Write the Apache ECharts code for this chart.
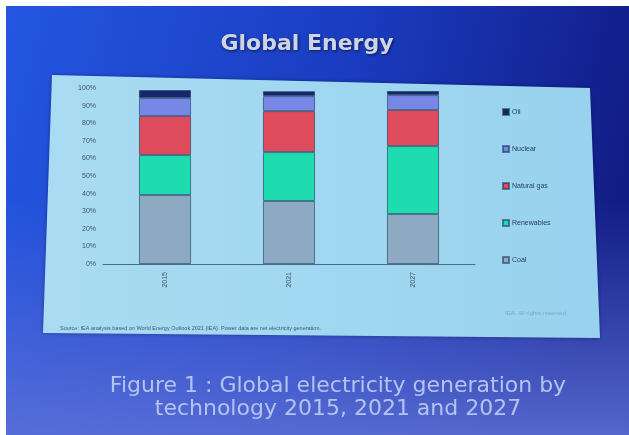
<!DOCTYPE html>
<html>
<head>
<meta charset="utf-8">
<script src="https://cdn.jsdelivr.net/npm/echarts@6/dist/echarts.min.js"></script>
<style>
html,body{margin:0;padding:0;background:#fff;}
#chart{width:629px;height:435px;}
</style>
</head>
<body>
<div id="chart"></div>
<script>
// Data (share of global electricity generation, %)
var categories = ['2015', '2021', '2027'];
var coal       = [39.2, 35.8, 28.4];
var renewables = [22.7, 27.8, 38.6];
var naturalGas = [22.2, 23.3, 20.5];
var nuclear    = [10.2, 8.5, 8.5];
var oil        = [4.5, 2.8, 2.3];
var legendOrder = ['Oil', 'Nuclear', 'Natural gas', 'Renewables', 'Coal'];

var chart = echarts.init(document.getElementById('chart'), null, {renderer: 'canvas'});

function seg(name, data, color) {
  return {
    name: name, type: 'bar', stack: 'total', data: data, barWidth: '42%',
    itemStyle: {color: color, borderColor: 'rgba(20,45,80,0.55)', borderWidth: 1},
    emphasis: {disabled: true}
  };
}

var option = {
  animation: false,
  backgroundColor: {
    type: 'linear', x: 0, y: 0, x2: 1, y2: 0.35,
    colorStops: [
      {offset: 0, color: '#2457e2'},
      {offset: 0.55, color: '#1a3cc0'},
      {offset: 1, color: '#121c86'}
    ]
  },
  title: [
    {
      text: 'Global Energy', left: 302, top: 28, textAlign: 'center',
      textStyle: {color: '#cfd4e2', fontFamily: 'DejaVu Sans', fontWeight: 'bold', fontSize: 22,
        textShadowColor: 'rgba(0,0,20,0.6)', textShadowBlur: 3, textShadowOffsetX: 1, textShadowOffsetY: 1}
    },
    {
      text: 'Figure 1 : Global electricity generation by\ntechnology 2015, 2021 and 2027',
      left: 333, top: 370, textAlign: 'center',
      textStyle: {color: '#b4c3ef', fontFamily: 'DejaVu Sans', fontWeight: 'normal', fontSize: 22, lineHeight: 23,
        align: 'center'}
    }
  ],
  graphic: [
    {
      type: 'rect', z: -20, silent: true,
      shape: {x: 0, y: 200, width: 629, height: 235},
      style: {fill: {type: 'linear', x: 0, y: 0, x2: 0, y2: 1,
        colorStops: [{offset: 0, color: 'rgba(90,110,220,0)'}, {offset: 1, color: 'rgba(95,115,215,0.85)'}]}}
    },
    {
      type: 'polygon', z: -10, silent: true,
      shape: {points: [[52, 75], [590, 88], [600, 338], [43, 333]]},
      style: {fill: {type: 'linear', x: 0, y: 0, x2: 1, y2: 0,
        colorStops: [{offset: 0, color: '#a9dcf2'}, {offset: 1, color: '#98d2ee'}]},
        shadowColor: 'rgba(0,0,40,0.4)', shadowBlur: 4}
    },
    {
      type: 'text', z: 5, silent: true, left: 60, top: 325,
      style: {text: 'Source: IEA analysis based on World Energy Outlook 2021 (IEA). Power data are net electricity generation.',
        fill: '#3c5a7a', font: '5.5px Liberation Sans'}
    },
    {
      type: 'text', z: 5, silent: true, left: 505, top: 310,
      style: {text: 'IEA. All rights reserved.', fill: '#7fa6c4', font: '6px Liberation Sans'}
    },
    {
      type: 'rect', z: 50, silent: true, shape: {x: 0, y: 0, width: 629, height: 6}, style: {fill: '#ffffff'}
    },
    {
      type: 'rect', z: 50, silent: true, shape: {x: 0, y: 0, width: 6, height: 435}, style: {fill: '#ffffff'}
    }
  ],
  legend: {
    orient: 'vertical', left: 497, top: 103, itemGap: 29, itemWidth: 6, itemHeight: 6,
    data: legendOrder,
    textStyle: {color: '#27415e', fontSize: 7, fontFamily: 'Liberation Sans', padding: [0, 0, 0, -2]},
    icon: 'rect'
  },
  grid: {left: 103, width: 372, top: 88, height: 176, containLabel: false},
  xAxis: {
    type: 'category', data: categories,
    axisLine: {show: true, lineStyle: {color: '#4c6a88', width: 1}},
    axisTick: {show: false},
    axisLabel: {rotate: 90, color: '#3a526c', fontSize: 7, margin: 8, fontFamily: 'Liberation Sans'}
  },
  yAxis: {
    type: 'value', min: 0, max: 100, interval: 10,
    axisLine: {show: false}, axisTick: {show: false}, splitLine: {show: false},
    axisLabel: {formatter: '{value}%', color: '#3a526c', fontSize: 7, margin: 7, fontFamily: 'Liberation Sans'}
  },
  series: [
    seg('Coal', coal, '#8ea9c2'),
    seg('Renewables', renewables, '#1fdcb0'),
    seg('Natural gas', naturalGas, '#de4b5c'),
    seg('Nuclear', nuclear, '#7787e6'),
    seg('Oil', oil, '#18266e')
  ]
};
chart.setOption(option);
</script>
</body>
</html>
